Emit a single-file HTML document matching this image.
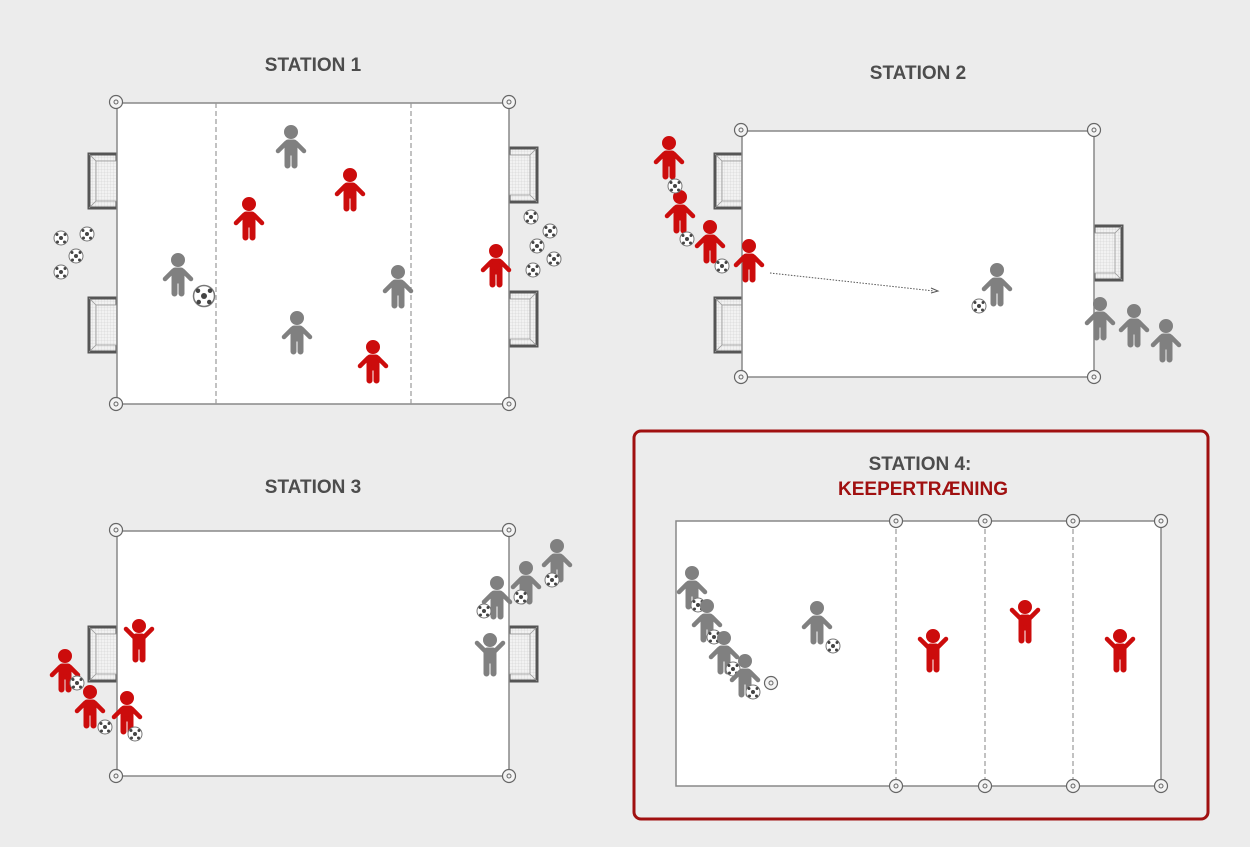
<!DOCTYPE html>
<html><head><meta charset="utf-8"><style>
html,body{margin:0;padding:0;background:#ececec;}
svg{display:block;}
.t{font-family:"Liberation Sans",sans-serif;font-weight:bold;font-size:19px;fill:#4d4d4d;text-anchor:middle;}
</style></head><body>
<svg width="1250" height="847" viewBox="0 0 1250 847" xmlns="http://www.w3.org/2000/svg">
<defs>
<pattern id="net" width="3" height="3" patternUnits="userSpaceOnUse">
<rect width="3" height="3" fill="#f2f2f2"/>
<path d="M0 0 H3 M0 0 V3" stroke="#cfcfcf" stroke-width="0.6"/>
</pattern>
<g id="pl">
<circle cx="0" cy="0" r="6.5"/>
<rect x="-6" y="8" width="12" height="15" rx="3"/>
<rect x="-6" y="18" width="5" height="18" rx="2.5"/>
<rect x="1" y="18" width="5" height="18" rx="2.5"/>
<path d="M-5 11 L-13 19 M5 11 L13 19" stroke-width="4.5" stroke-linecap="round" stroke="inherit"/>
</g>
<g id="pu">
<circle cx="0" cy="0" r="6.5"/>
<rect x="-6" y="8" width="12" height="15" rx="3"/>
<rect x="-6" y="18" width="5" height="18" rx="2.5"/>
<rect x="1" y="18" width="5" height="18" rx="2.5"/>
<path d="M-5 11 L-13 3 M5 11 L13 3" stroke-width="4.5" stroke-linecap="round" stroke="inherit"/>
</g>
<g id="b">
<circle r="7" fill="#fff" stroke="#777" stroke-width="1"/>
<circle cx="0" cy="0" r="2" fill="#444"/>
<circle cx="-4" cy="-3.5" r="1.5" fill="#444"/>
<circle cx="4" cy="-3.5" r="1.5" fill="#444"/>
<circle cx="-3.5" cy="4" r="1.5" fill="#444"/>
<circle cx="3.5" cy="4" r="1.5" fill="#444"/>
</g>
<g id="c">
<circle r="6.5" fill="#f4f4f4" stroke="#666" stroke-width="1.2"/>
<circle r="2" fill="none" stroke="#666" stroke-width="1"/>
</g>
<g id="gl">
<rect x="0" y="0" width="28" height="54" fill="url(#net)" stroke="#555" stroke-width="3"/>
<rect x="7" y="7" width="21" height="40" fill="url(#net)" stroke="#999" stroke-width="0.8"/>
<path d="M0 0 L7 7 M0 54 L7 47" stroke="#999" stroke-width="0.8"/>
</g>
<g id="gr">
<rect x="0" y="0" width="28" height="54" fill="url(#net)" stroke="#555" stroke-width="3"/>
<rect x="0" y="7" width="21" height="40" fill="url(#net)" stroke="#999" stroke-width="0.8"/>
<path d="M28 0 L21 7 M28 54 L21 47" stroke="#999" stroke-width="0.8"/>
</g>
</defs>

<!-- STATION 1 -->
<text class="t" x="313" y="71">STATION 1</text>
<use href="#gl" x="89" y="154"/><use href="#gl" x="89" y="298"/>
<use href="#gr" x="509" y="148"/><use href="#gr" x="509" y="292"/>
<rect x="117" y="103" width="392" height="301" fill="#fff" stroke="#888" stroke-width="1.5"/>
<path d="M216 103 V404 M411 103 V404" stroke="#999" stroke-width="1.2" stroke-dasharray="5,3"/>
<use href="#c" x="116" y="102"/><use href="#c" x="509" y="102"/><use href="#c" x="116" y="404"/><use href="#c" x="509" y="404"/>
<g fill="#808080" stroke="#808080">
<use href="#pl" x="291" y="132"/><use href="#pl" x="178" y="260"/><use href="#pl" x="398" y="272"/><use href="#pl" x="297" y="318"/>
</g>
<g fill="#cc0c0c" stroke="#cc0c0c">
<use href="#pl" x="249" y="204"/><use href="#pl" x="350" y="175"/><use href="#pl" x="496" y="251"/><use href="#pl" x="373" y="347"/>
</g>
<use href="#b" transform="translate(204,296) scale(1.5)"/>
<use href="#b" x="61" y="238"/><use href="#b" x="87" y="234"/><use href="#b" x="76" y="256"/><use href="#b" x="61" y="272"/>
<use href="#b" x="531" y="217"/><use href="#b" x="550" y="231"/><use href="#b" x="537" y="246"/><use href="#b" x="554" y="259"/><use href="#b" x="533" y="270"/>

<!-- STATION 2 -->
<text class="t" x="918" y="79">STATION 2</text>
<use href="#gl" x="715" y="154"/><use href="#gl" x="715" y="298"/>
<use href="#gr" x="1094" y="226"/>
<rect x="742" y="131" width="352" height="246" fill="#fff" stroke="#888" stroke-width="1.5"/>
<use href="#c" x="741" y="130"/><use href="#c" x="1094" y="130"/><use href="#c" x="741" y="377"/><use href="#c" x="1094" y="377"/>
<g fill="#cc0c0c" stroke="#cc0c0c">
<use href="#pl" x="669" y="143"/><use href="#pl" x="680" y="197"/><use href="#pl" x="710" y="227"/><use href="#pl" x="749" y="246"/>
</g>
<use href="#b" x="675" y="186"/><use href="#b" x="687" y="239"/><use href="#b" x="722" y="266"/>
<path d="M770 273 L934 291" stroke="#555" stroke-width="1" stroke-dasharray="1.5,1.5"/>
<path d="M931 288 L938 291 L931 293" fill="none" stroke="#555" stroke-width="1"/>
<g fill="#808080" stroke="#808080">
<use href="#pl" x="997" y="270"/><use href="#pl" x="1100" y="304"/><use href="#pl" x="1134" y="311"/><use href="#pl" x="1166" y="326"/>
</g>
<use href="#b" x="979" y="306"/>

<!-- STATION 3 -->
<text class="t" x="313" y="493">STATION 3</text>
<use href="#gl" x="89" y="627"/><use href="#gr" x="509" y="627"/>
<rect x="117" y="531" width="392" height="245" fill="#fff" stroke="#888" stroke-width="1.5"/>
<use href="#c" x="116" y="530"/><use href="#c" x="509" y="530"/><use href="#c" x="116" y="776"/><use href="#c" x="509" y="776"/>
<g fill="#cc0c0c" stroke="#cc0c0c">
<use href="#pu" x="139" y="626"/><use href="#pl" x="65" y="656"/><use href="#pl" x="90" y="692"/><use href="#pl" x="127" y="698"/>
</g>
<use href="#b" x="77" y="683"/><use href="#b" x="105" y="727"/><use href="#b" x="135" y="734"/>
<g fill="#808080" stroke="#808080">
<use href="#pl" x="557" y="546"/><use href="#pl" x="526" y="568"/><use href="#pl" x="497" y="583"/><use href="#pu" x="490" y="640"/>
</g>
<use href="#b" x="552" y="580"/><use href="#b" x="521" y="597"/><use href="#b" x="484" y="611"/>

<!-- STATION 4 -->
<rect x="634" y="431" width="574" height="388" rx="7" fill="none" stroke="#a01010" stroke-width="3"/>
<text class="t" x="920" y="470">STATION 4:</text>
<text class="t" x="923" y="495" style="fill:#a01010">KEEPERTRÆNING</text>
<rect x="676" y="521" width="485" height="265" fill="#fff" stroke="#888" stroke-width="1.5"/>
<path d="M896 521 V786 M985 521 V786 M1073 521 V786" stroke="#999" stroke-width="1.2" stroke-dasharray="5,3"/>
<use href="#c" x="896" y="521"/><use href="#c" x="985" y="521"/><use href="#c" x="1073" y="521"/><use href="#c" x="1161" y="521"/>
<use href="#c" x="896" y="786"/><use href="#c" x="985" y="786"/><use href="#c" x="1073" y="786"/><use href="#c" x="1161" y="786"/>
<use href="#c" x="771" y="683"/>
<g fill="#808080" stroke="#808080"><use href="#pl" x="692" y="573"/></g>
<use href="#b" x="698" y="605"/>
<g fill="#808080" stroke="#808080"><use href="#pl" x="707" y="606"/></g>
<use href="#b" x="714" y="637"/>
<g fill="#808080" stroke="#808080"><use href="#pl" x="724" y="638"/></g>
<use href="#b" x="733" y="669"/>
<g fill="#808080" stroke="#808080"><use href="#pl" x="745" y="661"/><use href="#pl" x="817" y="608"/></g>
<use href="#b" x="753" y="692"/><use href="#b" x="833" y="646"/>
<g fill="#cc0c0c" stroke="#cc0c0c">
<use href="#pu" x="933" y="636"/><use href="#pu" x="1025" y="607"/><use href="#pu" x="1120" y="636"/>
</g>
</svg>
</body></html>
